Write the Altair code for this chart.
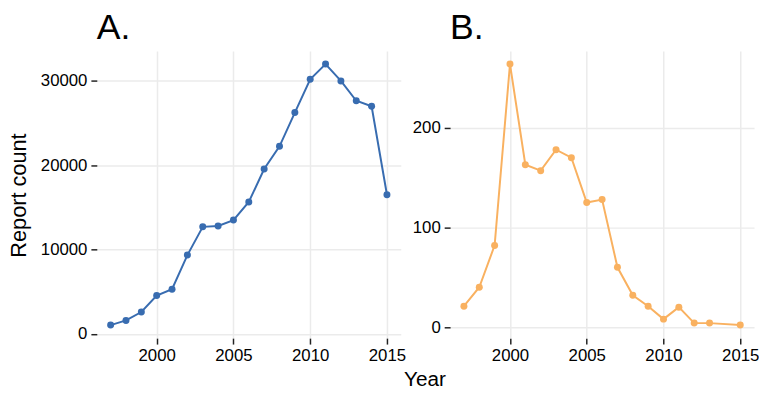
import altair as alt
import pandas as pd

years_a = [1997, 1998, 1999, 2000, 2001, 2002, 2003, 2004, 2005, 2006,
           2007, 2008, 2009, 2010, 2011, 2012, 2013, 2014, 2015]
counts_a = [1050, 1600, 2600, 4550, 5300, 9350, 12700, 12800, 13500, 15650,
            19550, 22250, 26250, 30200, 32000, 30000, 27650, 27000, 16500]

years_b = [1997, 1998, 1999, 2000, 2001, 2002, 2003, 2004, 2005, 2006,
           2007, 2008, 2009, 2010, 2011, 2012, 2013, 2015]
counts_b = [21, 40, 82, 264, 163, 157, 178, 170, 125, 128,
            60, 32, 21, 8, 20, 4, 4, 2]

x_ticks = [2000, 2005, 2010, 2015]
y_ticks_a = [0, 10000, 20000, 30000]
y_ticks_b = [0, 100, 200]

FONT = "Liberation Sans"
W, H = 308, 291


def panel(years, counts, color, yticks, ydom, title, ytitle, xtitle):
    df = pd.DataFrame({"Year": years, "Count": counts})
    xax = alt.Axis(values=x_ticks, format="d", title=xtitle if xtitle else None,
                   titleX=-26, titleY=48, titleAnchor="start", titleAlign="center",
                   titleBaseline="alphabetic")
    yax = alt.Axis(values=yticks, format="d", title=ytitle if ytitle else None,
                   titleX=-72, titleY=146, titleAngle=270, titleAlign="center",
                   titleBaseline="alphabetic", titleFontSize=22)
    x = alt.X("Year:Q", scale=alt.Scale(domain=[1996.1, 2015.9], nice=False, zero=False),
              axis=xax)
    y = alt.Y("Count:Q", scale=alt.Scale(domain=ydom, nice=False, zero=False), axis=yax)
    base = alt.Chart(df)
    line = base.mark_line(color=color, strokeWidth=2).encode(x=x, y=y)
    pts = base.mark_circle(color=color, size=50, opacity=1).encode(x=x, y=y)
    return (line + pts).properties(
        width=W, height=H,
        title=alt.TitleParams(title, anchor="start", frame="group", fontSize=36, font=FONT,
                              fontWeight="normal", color="black", offset=4),
    )


a = panel(years_a, counts_a, "#386cb0", y_ticks_a, [-500, 33550], "A.", "Report count", "")
b = panel(years_b, counts_b, "#f9b160", y_ticks_b, [-11.1, 277.1], "B.", "", "Year")

chart = alt.hconcat(a, b, spacing=50, bounds="flush").properties(
    padding=0
).configure_view(stroke=None).configure_axis(
    grid=True, gridColor="#ebebeb", gridWidth=1.5, domain=False,
    tickColor="#222222", tickSize=6, tickWidth=1.5,
    labelFont=FONT, labelFontSize=17, labelColor="black", labelPadding=4,
    titleFont=FONT, titleFontSize=21, titleFontWeight="normal", titleColor="black",
)

chart.save("out.html", embed_options={"renderer": "svg", "actions": False})
